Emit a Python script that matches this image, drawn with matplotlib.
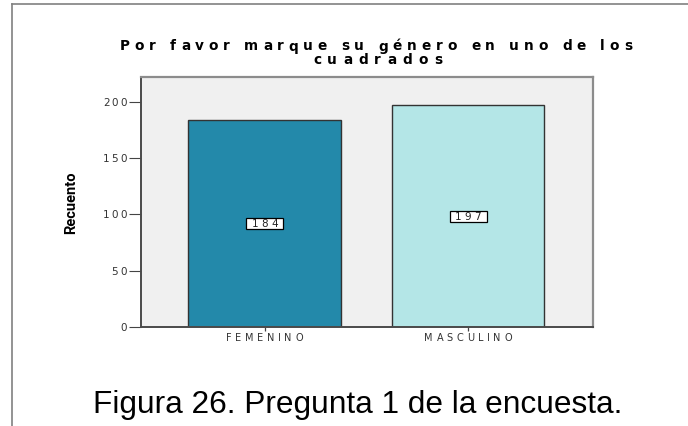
import matplotlib.pyplot as plt
from matplotlib.font_manager import FontProperties
from matplotlib.lines import Line2D
from matplotlib.patches import Rectangle

categories = ['FEMENINO', 'MASCULINO']
counts = [184, 197]
bar_colors = ['#2389aa', '#b4e6e7']
y_ticks = [0, 50, 100, 150, 200]
title_lines = ['Por favor marque su género en uno de los', 'cuadrados']
y_label = 'Recuento'
caption = 'Figura 26. Pregunta 1 de la encuesta.'

W, H = 688, 427
fig = plt.figure(figsize=(W / 100, H / 100), dpi=100)
fig.patch.set_facecolor('white')
renderer = fig.canvas.get_renderer()


def advances(s, prop):
    # glyph advance widths in pixels, measured between two bars
    ref = renderer.get_text_width_height_descent('||', prop, ismath=False)[0]
    return [renderer.get_text_width_height_descent('|' + c + '|', prop,
                                                   ismath=False)[0] - ref
            for c in s]


def spaced_text(x, y, s, prop, track=0.0, width=None, ha='center',
                va='baseline', color='black', zorder=5):
    """Draw *s* at display pixel (x, y) one glyph at a time with extra
    letter spacing (either *track* px or enough to fill *width* px)."""
    adv = advances(s, prop)
    if width is not None and len(s) > 1:
        track = (width - sum(adv)) / (len(s) - 1)
    total = sum(adv) + track * (len(s) - 1)
    x0 = {'left': x, 'center': x - total / 2, 'right': x - total}[ha]
    for c, a in zip(s, adv):
        if c != ' ':
            fig.text(x0 / W, y / H, c, fontproperties=prop, ha='left',
                     va=va, color=color, zorder=zorder)
        x0 += a + track


# page frame (top and left rule)
frame_kw = dict(color='#808080', lw=1.2, transform=fig.transFigure)
fig.add_artist(Line2D([12 / W, 1], [1 - 5 / H, 1 - 5 / H], **frame_kw))
fig.add_artist(Line2D([12 / W, 12 / W], [0, 1 - 5 / H], **frame_kw))

ax = fig.add_axes((141 / W, 1 - 328 / H, 452 / W, 250.5 / H))
ax.set_facecolor('#f0f0f0')

x = list(range(len(categories)))
bars = ax.bar(x, counts, width=0.75, color=bar_colors,
              edgecolor='#333333', linewidth=1.0, zorder=2)

ax.set_xlim(-0.607, 1.614)
ax.set_ylim(0, 222.5)
ax.set_xticks(x)
ax.set_xticklabels([])
ax.set_yticks(y_ticks)
ax.set_yticklabels([])
ax.tick_params(axis='y', direction='out', length=8.5, width=0.8,
               color='#444444')
ax.tick_params(axis='x', direction='out', length=3, width=0.9,
               color='#444444')

for side in ('left', 'bottom'):
    ax.spines[side].set_color('#4a4a4a')
    ax.spines[side].set_linewidth(1.4)
for side in ('top', 'right'):
    ax.spines[side].set_color('#8c8c8c')
    ax.spines[side].set_linewidth(1.6)

tick_prop = FontProperties(family='DejaVu Sans', size=7)
num_prop = FontProperties(family='DejaVu Sans', size=7.5)

# y tick labels
for v in y_ticks:
    _, yd = ax.transData.transform((0, v))
    spaced_text(127, yd, str(v), num_prop, track=2.2, ha='right',
                va='center', color='#333333')

# category labels under the bars
for i, name in enumerate(categories):
    xd, _ = ax.transData.transform((i, 0))
    spaced_text(xd, H - 341.5, name, tick_prop, track=3.6, ha='center',
                color='#333333')

# count boxes in the middle of each bar
for rect, n in zip(bars, counts):
    xd, yd = ax.transData.transform((rect.get_x() + rect.get_width() / 2,
                                     n / 2))
    fig.add_artist(Rectangle(((xd - 18.5) / W, (yd - 5.5) / H), 37 / W,
                             11 / H, transform=fig.transFigure,
                             fc='white', ec='black', lw=0.9, zorder=4))
    spaced_text(xd, yd, str(n), num_prop, track=3.2, ha='center',
                va='center', color='#222222')

# title, letter-spaced over two lines
title_prop = FontProperties(family='DejaVu Sans', weight='bold', size=9.8)
spaced_text(376, H - 50.5, title_lines[0], title_prop, width=512)
spaced_text(377.5, H - 64.5, title_lines[1], title_prop, width=129)

fig.text(71.5 / W, 1 - 202.5 / H, y_label, rotation=90, ha='center',
         va='center', fontsize=10.5, fontweight='bold',
         family=['Liberation Sans Narrow', 'Roboto', 'DejaVu Sans'])

fig.text(358 / W, 1 - 413 / H, caption, ha='center', va='baseline',
         fontsize=22.8, family='Liberation Sans', color='black')

fig.savefig('out.png', dpi=100)
